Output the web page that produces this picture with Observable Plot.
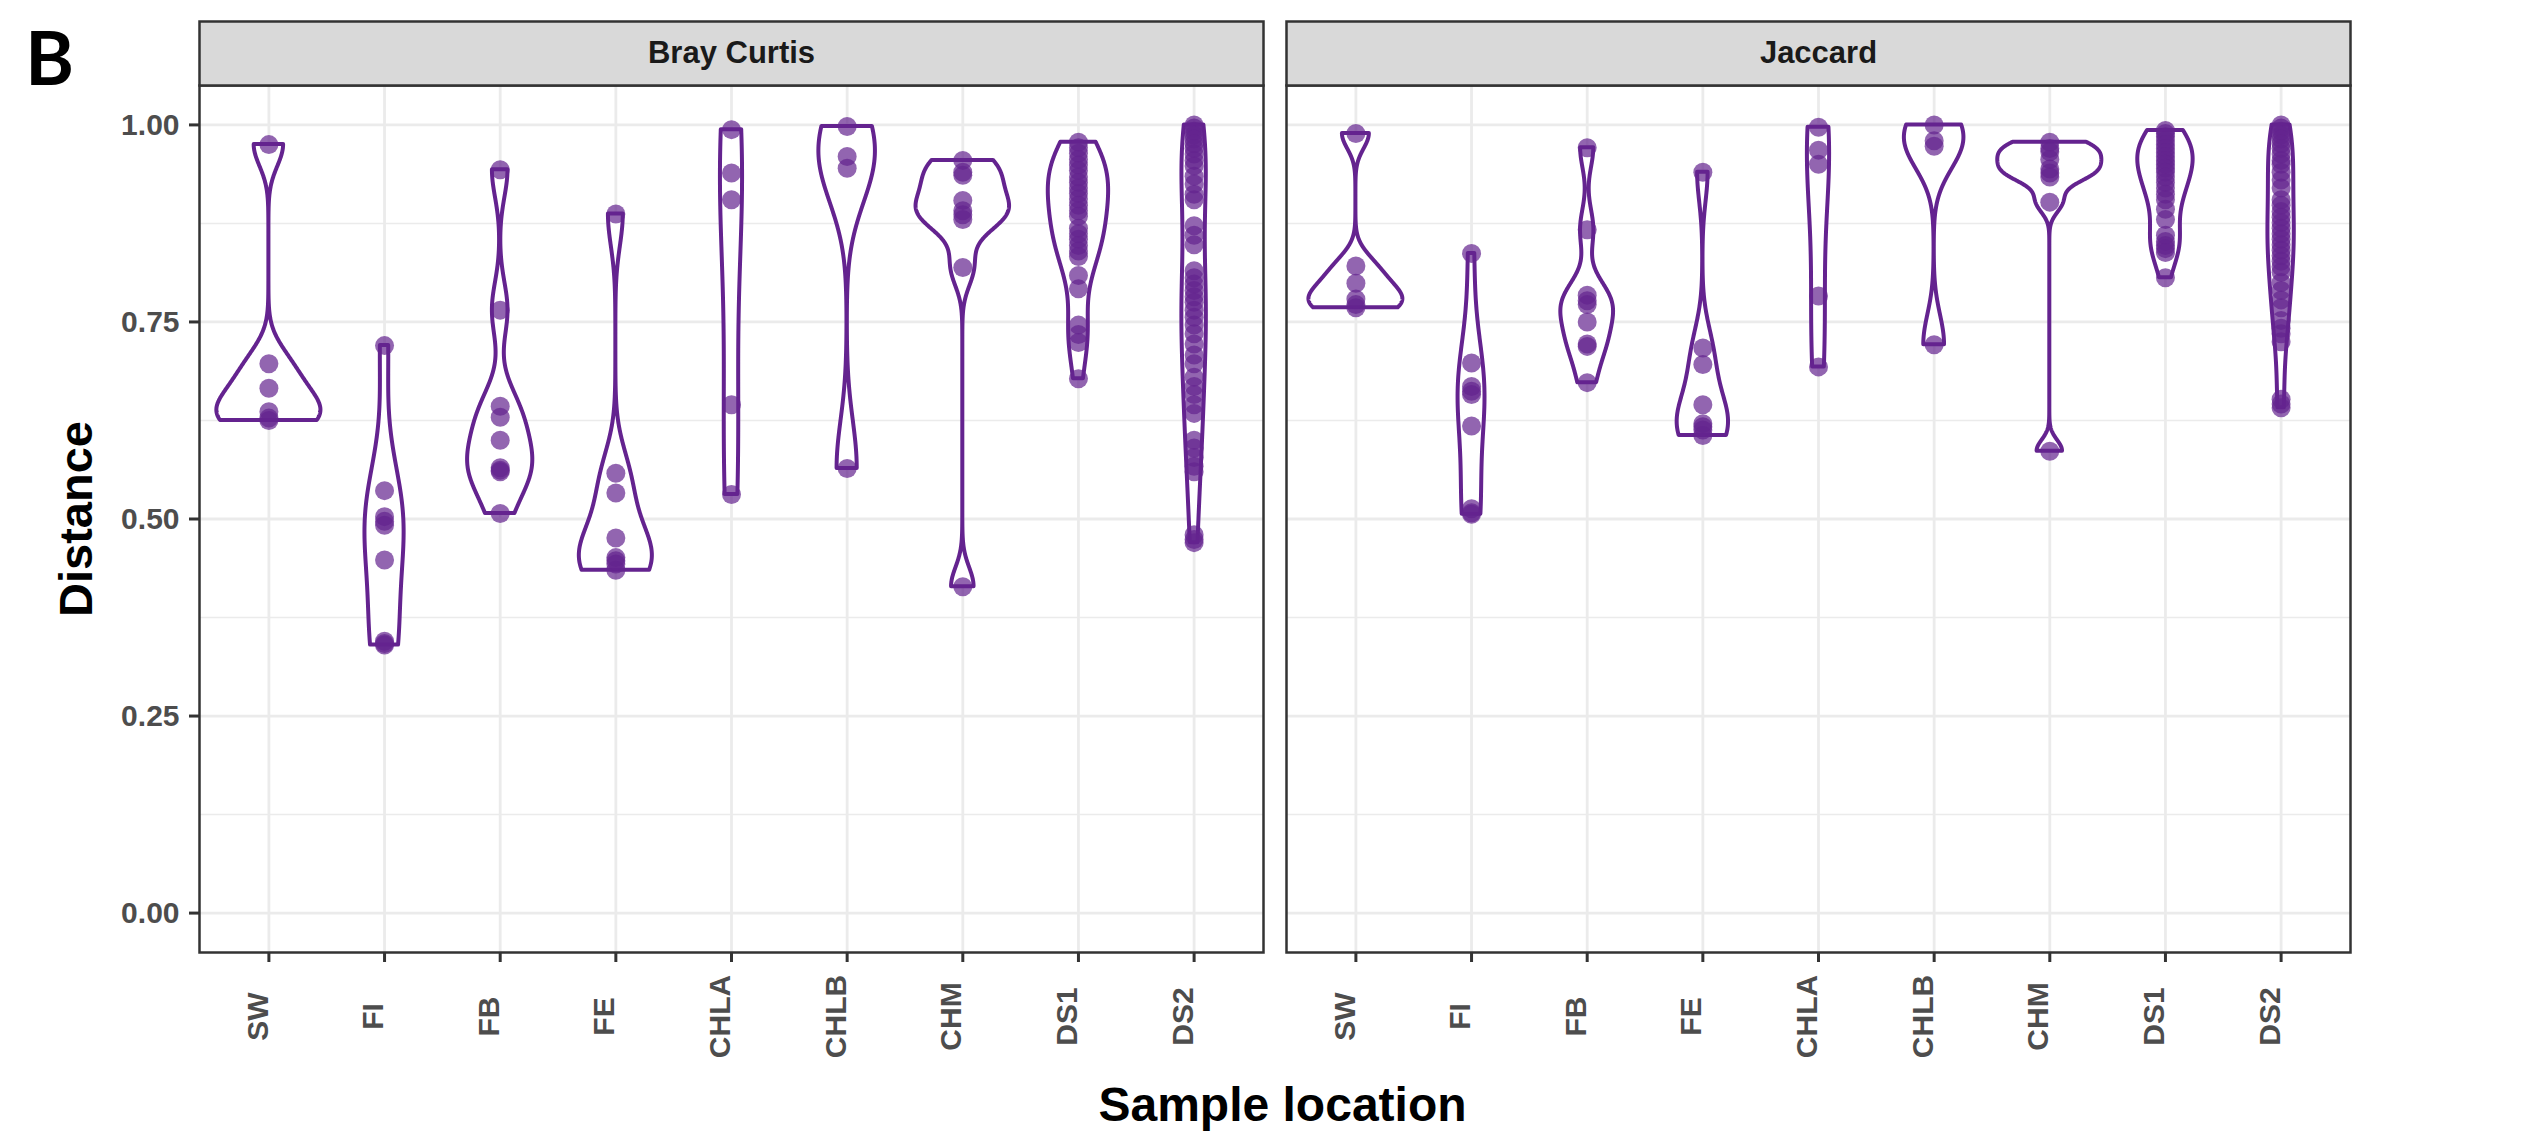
<!DOCTYPE html>
<html>
<head>
<meta charset="utf-8">
<script src="https://cdn.jsdelivr.net/npm/d3@7"></script>
<script src="https://cdn.jsdelivr.net/npm/@observablehq/plot@0.6"></script>
<style>
  html, body { margin: 0; padding: 0; background: #ffffff; }
</style>
</head>
<body>
<div id="chart"></div>
<script>
// ---- categories, facets, ticks ----
const categories = ["SW", "FI", "FB", "FE", "CHLA", "CHLB", "CHM", "DS1", "DS2"];
const metrics = ["Bray Curtis", "Jaccard"];
const yTicks = [0, 0.25, 0.5, 0.75, 1];
const yMinor = [0.125, 0.375, 0.625, 0.875];

// ---- Bray Curtis distances per sample location ----
const bcSW = [0.975, 0.697, 0.666, 0.636, 0.628, 0.625];
const bcFI = [0.720, 0.536, 0.503, 0.497, 0.492, 0.448, 0.345, 0.342, 0.340];
const bcFB = [0.943, 0.765, 0.643, 0.629, 0.600, 0.565, 0.562, 0.560, 0.507];
const bcFE = [0.887, 0.558, 0.533, 0.476, 0.451, 0.447, 0.443, 0.435];
const bcCHLA = [0.994, 0.939, 0.905, 0.645, 0.531];
const bcCHLB = [0.998, 0.960, 0.945, 0.564];
const bcCHM = [0.955, 0.940, 0.936, 0.904, 0.891, 0.886, 0.880, 0.819, 0.414];
const bcDS1 = [0.978, 0.971, 0.964, 0.956, 0.949, 0.942, 0.934, 0.927, 0.920, 0.913, 0.906, 0.898, 0.891,
               0.884, 0.869, 0.862, 0.855, 0.847, 0.840, 0.833, 0.809, 0.792, 0.746, 0.734, 0.724, 0.678];
const bcDS2 = [1.000, 0.996, 0.992, 0.987, 0.982, 0.976, 0.970, 0.963, 0.955, 0.948, 0.935, 0.925, 0.912,
               0.905, 0.872, 0.860, 0.848, 0.815, 0.806, 0.798, 0.790, 0.782, 0.775, 0.765, 0.756, 0.746,
               0.735, 0.722, 0.708, 0.697, 0.680, 0.668, 0.658, 0.645, 0.634, 0.600, 0.590, 0.578, 0.567,
               0.560, 0.480, 0.474, 0.470];

// ---- Jaccard distances per sample location ----
const jcSW = [0.989, 0.821, 0.799, 0.779, 0.772, 0.768];
const jcFI = [0.837, 0.698, 0.668, 0.662, 0.658, 0.618, 0.513, 0.508, 0.506];
const jcFB = [0.971, 0.867, 0.784, 0.777, 0.772, 0.750, 0.722, 0.719, 0.673];
const jcFE = [0.940, 0.717, 0.696, 0.645, 0.621, 0.617, 0.613, 0.606];
const jcCHLA = [0.997, 0.968, 0.950, 0.783, 0.693];
const jcCHLB = [1.000, 0.980, 0.973, 0.721];
const jcCHM = [0.978, 0.970, 0.966, 0.956, 0.944, 0.939, 0.934, 0.902, 0.586];
const jcDS1 = [0.993, 0.989, 0.985, 0.980, 0.975, 0.970, 0.965, 0.960, 0.955, 0.950, 0.945, 0.940, 0.934,
               0.927, 0.920, 0.912, 0.905, 0.893, 0.880, 0.860, 0.852, 0.847, 0.843, 0.838, 0.806];
const jcDS2 = [1.000, 0.996, 0.992, 0.987, 0.982, 0.976, 0.970, 0.963, 0.955, 0.950, 0.940, 0.930, 0.920,
               0.905, 0.898, 0.890, 0.883, 0.876, 0.869, 0.862, 0.855, 0.848, 0.841, 0.834, 0.827, 0.820,
               0.813, 0.800, 0.790, 0.778, 0.768, 0.752, 0.742, 0.735, 0.725, 0.652, 0.646, 0.641];

const series = {
  "Bray Curtis": [bcSW, bcFI, bcFB, bcFE, bcCHLA, bcCHLB, bcCHM, bcDS1, bcDS2],
  "Jaccard": [jcSW, jcFI, jcFB, jcFE, jcCHLA, jcCHLB, jcCHM, jcDS1, jcDS2]
};

// ---- tidy points table ----
const points = [];
metrics.forEach(m => series[m].forEach((arr, i) =>
  arr.forEach(v => points.push({metric: m, cat: categories[i], xi: i, value: v}))));

// ---- violin densities (gaussian KDE, bw.nrd0, trimmed, scale = "area") ----
function nrd0(x) {
  const hi = d3.deviation(x);
  const iqr = d3.quantile(x, 0.75) - d3.quantile(x, 0.25);
  let lo = Math.min(hi, iqr / 1.34);
  if (!(lo > 0)) lo = hi || Math.abs(x[0]) || 1;
  return 0.9 * lo * Math.pow(x.length, -0.2);
}
function kde(vals) {
  const n = vals.length, bw = nrd0(vals);
  const lo = d3.min(vals), hi = d3.max(vals);
  const out = [];
  for (let k = 0; k < 512; k++) {
    const y = lo + (hi - lo) * k / 511;
    let s = 0;
    for (const v of vals) { const u = (y - v) / bw; s += Math.exp(-0.5 * u * u); }
    out.push({y, d: s / (n * bw * Math.sqrt(2 * Math.PI))});
  }
  return out;
}
const violins = [];
metrics.forEach(m => {
  const dens = series[m].map(kde);
  const maxD = d3.max(dens, g => d3.max(g, p => p.d));
  dens.forEach((g, i) => g.forEach(p => {
    const hw = 0.45 * p.d / maxD;
    violins.push({metric: m, key: m + "|" + categories[i], y: p.y, x1: i - hw, x2: i + hw});
  }));
});

const purple = "#64238F";

const chart = Plot.plot({
  width: 2545,
  height: 1139,
  marginTop: 85,
  marginBottom: 187,
  marginLeft: 198,
  marginRight: 195,
  style: {fontFamily: "'Liberation Sans', Arial, sans-serif", background: "#ffffff", overflow: "visible"},
  fx: {domain: metrics, axis: null, paddingInner: 0.0212, paddingOuter: 0, label: null},
  x: {domain: [-0.6, categories.length - 0.4], axis: null},
  y: {domain: [-0.05, 1.05], axis: null},
  marks: [
    // grid
    Plot.ruleY(yMinor, {stroke: "#EBEBEB", strokeWidth: 1.5}),
    Plot.ruleY(yTicks, {stroke: "#EBEBEB", strokeWidth: 2.8}),
    Plot.ruleX(d3.range(categories.length), {stroke: "#EBEBEB", strokeWidth: 2.8}),
    // violins
    Plot.areaX(violins, {fx: "metric", y: "y", x1: "x1", x2: "x2", z: "key",
      fill: "white", stroke: purple, strokeWidth: 4, strokeLinejoin: "round"}),
    // points
    Plot.dot(points, {fx: "metric", x: "xi", y: "value", r: 9.5, fill: purple, fillOpacity: 0.7, stroke: "none"}),
    // panel border
    Plot.frame({stroke: "#333333", strokeWidth: 2.5}),
    // facet strips
    Plot.frame({fill: "#D9D9D9", stroke: "#333333", strokeWidth: 2.5, insetTop: -64, insetBottom: 867}),
    Plot.text(metrics, {fx: d => d, text: d => d, frameAnchor: "top", dy: -32,
      fontSize: 31, fontWeight: "bold", fill: "#1A1A1A", lineAnchor: "middle"}),
    // y axis
    Plot.axisY(yTicks, {tickFormat: d3.format(".2f"), tickSize: 10, tickPadding: 10,
      fontSize: 30, fontWeight: "bold", fill: "#4D4D4D", stroke: "#333333", strokeWidth: 3,
      label: null, facetAnchor: "left"}),
    // x axis ticks and labels
    Plot.tickX(d3.range(categories.length), {x: d => d, insetTop: 867, insetBottom: -10,
      stroke: "#333333", strokeWidth: 3}),
    Plot.text(categories, {x: (d, i) => i, text: d => d, frameAnchor: "bottom", dy: 64, dx: -11,
      rotate: -90, textAnchor: "middle", lineAnchor: "middle",
      fontSize: 30, fontWeight: "bold", fill: "#4D4D4D"}),
    // axis titles
    Plot.text(["Distance"], {fx: () => "Bray Curtis", text: d => d, frameAnchor: "left", dx: -123,
      rotate: -90, textAnchor: "middle", lineAnchor: "middle", fontSize: 47, fontWeight: "bold", fill: "#000000"}),
    Plot.text(["Sample location"], {fx: () => "Bray Curtis", text: d => d, frameAnchor: "bottom-right",
      dx: 19, dy: 153, textAnchor: "middle", lineAnchor: "middle", fontSize: 48, fontWeight: "bold", fill: "#000000"}),
    // panel tag
    Plot.text(["B"], {fx: () => "Bray Curtis", text: d => d, frameAnchor: "top-left", dx: -150, dy: -24,
      textAnchor: "middle", lineAnchor: "middle", fontSize: 74, fontWeight: "bold",
      fontFamily: "Lato, 'Open Sans', sans-serif", fill: "#000000"})
  ]
});

document.getElementById("chart").appendChild(chart);
</script>
</body>
</html>
